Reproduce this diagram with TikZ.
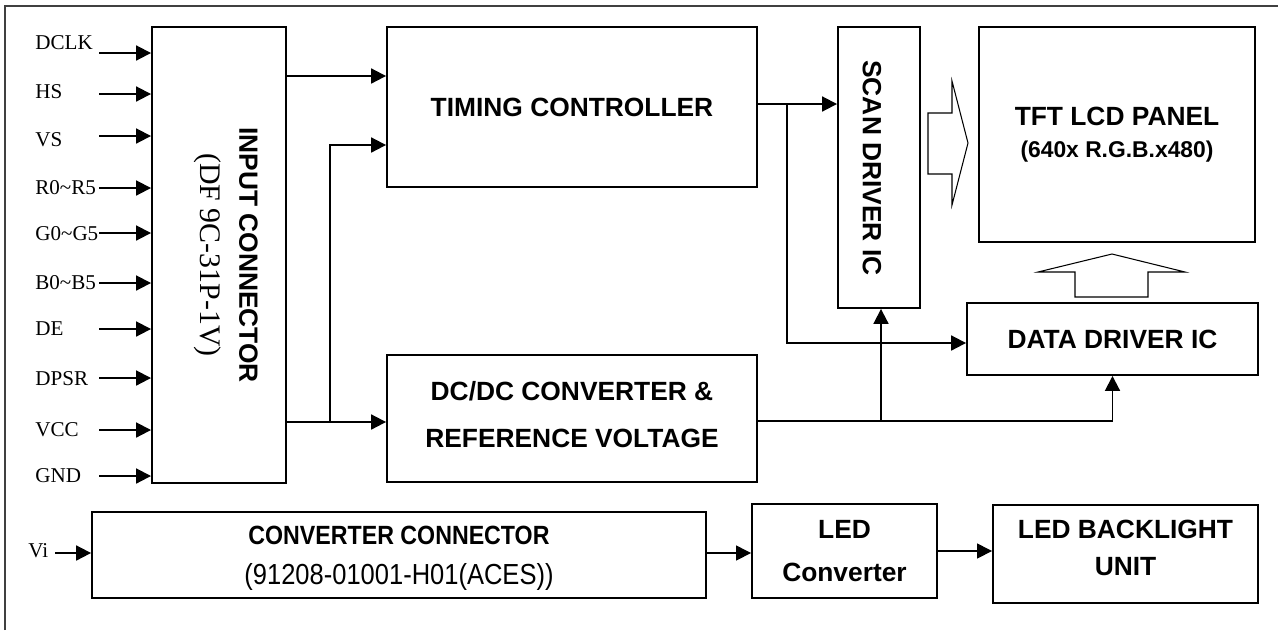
\documentclass[tikz,border=0pt]{standalone}
\usepackage{fontspec}
\setmainfont{Liberation Serif}
\setsansfont{Liberation Sans}
\newfontfamily\narrowsf[FakeStretch=0.88]{Liberation Sans}
\usetikzlibrary{arrows.meta}

\begin{document}
\begin{tikzpicture}[x=0.02cm,y=-0.02cm,
    blk/.style={draw,line width=1.1pt,inner sep=0pt,align=center,
      font=\fontsize{15}{18}\selectfont\sffamily\bfseries},
    arr/.style={line width=1.1pt,-{Triangle[length=8.5pt,width=8.5pt]}},
    thinarr/.style={line width=0.8pt,-{Triangle[length=8.5pt,width=8.5pt]}},
    hollow/.style={draw,line width=0.6pt,line join=miter},
    sig/.style={font=\fontsize{12}{14}\selectfont,anchor=west,inner sep=0pt}]
  \useasboundingbox (0,0) rectangle (1278,630);
  % frame
  \draw[line width=1.2pt,black!75] (5,630) -- (5,6) -- (1278,6);

  % blocks
  \node[blk,minimum width=2.68cm,minimum height=9.12cm] (conn) at (219,255) {};
  \node[blk,minimum width=7.40cm,minimum height=3.20cm] (tcon) at (572,107) {TIMING CONTROLLER};
  \node[blk,minimum width=7.40cm,minimum height=2.54cm] (dcdc) at (572,418.5)
    {DC/DC CONVERTER \&\\[8.6pt] REFERENCE VOLTAGE\\[-13pt]};
  \node[blk,minimum width=1.64cm,minimum height=5.62cm] (scan) at (879,167.5) {};
  \node[blk,minimum width=5.52cm,minimum height=4.30cm] (panel) at (1117,134.5)
    {TFT LCD PANEL\\{\fontsize{13}{15}\selectfont(640x R.G.B.x480)}};
  \node[blk,minimum width=5.82cm,minimum height=1.44cm] (ddrv) at (1112.5,339) {DATA DRIVER IC};
  \node[blk,minimum width=12.28cm,minimum height=1.72cm] (cconn) at (399,555) {};
  \node[blk,minimum width=3.70cm,minimum height=1.88cm] (ledc) at (844.5,551) {LED\\[6pt] Converter};
  \node[blk,minimum width=5.30cm,minimum height=1.96cm] (bl) at (1125.5,554) {LED BACKLIGHT\\[3.5pt] UNIT\\[-11pt]};

  % texts set apart from their boxes
  \node[align=center,inner sep=0pt,font=\fontsize{15}{18}\selectfont\narrowsf] (cconn-txt) at (399,558)
    {{\bfseries CONVERTER CONNECTOR}\\[5pt] {\fontsize{16.5}{18}\selectfont(91208-01001-H01(ACES))}};
  \node[rotate=-90,align=center,inner sep=0pt] (conn-txt) at (226,255)
    {{\fontsize{15}{18}\selectfont\sffamily\bfseries INPUT CONNECTOR}\\[10pt]{\fontsize{17}{20}\selectfont (DF 9C-31P-1V)}};
  \node[rotate=-90,inner sep=0pt,font=\fontsize{15}{18}\selectfont\sffamily\bfseries] (scan-txt) at (872,168) {SCAN DRIVER IC};

  % input signals
  \foreach \ty/\ay/\s [count=\i] in {43/53/DCLK,92/94/HS,140/136/VS,188/188/R0\textasciitilde R5,
      234/233/G0\textasciitilde G5,283/283/B0\textasciitilde B5,329/329/DE,379/378/DPSR,430/430/VCC,476/476/GND}{
    \node[sig] (sig\i) at (35,\ty) {\s};
    \coordinate (src\i) at (99,\ay);
    \draw[arr] (src\i) -- (src\i -| conn.west);
  }
  \node[sig] (vi) at (28,551) {Vi};
  \coordinate (visrc) at (55,553);
  \draw[arr] (visrc) -- (visrc -| cconn.west);

  % connectors
  \draw[arr] (conn.east |- 0,76) -- (tcon.west |- 0,76);
  \coordinate (split) at (330,422);
  \draw[arr] (conn.east |- split) -- (dcdc.west |- split);
  \draw[arr] (split) |- (tcon.west |- 0,145);
  \coordinate (tap) at (787,104);
  \draw[arr] (tcon.east |- tap) -- (scan.west |- tap);
  \draw[arr] (tap) |- (ddrv.west |- 0,343);
  \coordinate (vref) at (881,421);
  \draw[arr] (dcdc.east |- vref) -| (ddrv.south);
  \draw[arr] (vref) -- (vref |- scan.south);
  \draw[thinarr] (cconn.east |- 0,553) -- (ledc.west |- 0,553);
  \draw[thinarr] (ledc.east |- 0,551) -- (bl.west |- 0,551);

  % hollow arrows
  \draw[hollow] (928,113) -- (952,113) -- (952,81) -- (968,143) -- (952,205) -- (952,174) -- (928,174) -- cycle;
  \draw[hollow] (1075,297) -- (1075,272) -- (1038,272) -- (1112,254) -- (1185,272) -- (1148,272) -- (1148,297) -- cycle;
\end{tikzpicture}
\end{document}
